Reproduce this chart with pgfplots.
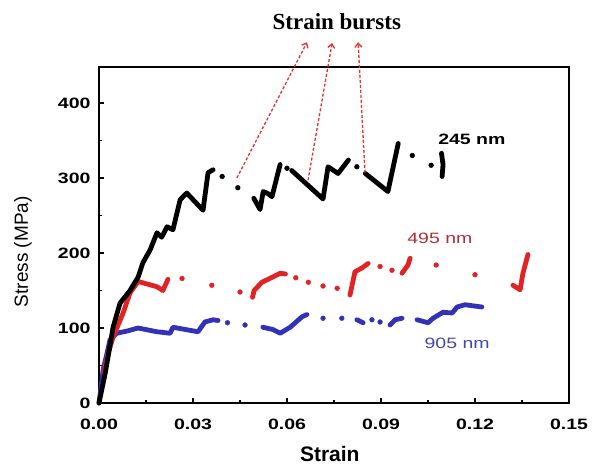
\documentclass[border=0pt]{standalone}
\usepackage{fontspec}
\setmainfont{Liberation Sans}
\newfontfamily\tickfont{Liberation Sans}[FakeStretch=1.3]
\newfontfamily\titlefont{Liberation Serif}
\usepackage{pgfplots}
\pgfplotsset{compat=1.18}
\usetikzlibrary{arrows.meta}

\definecolor{dred}{RGB}{225,35,35}
\definecolor{lred}{RGB}{175,45,55}
\definecolor{dblue}{RGB}{50,50,185}
\definecolor{lblue}{RGB}{70,70,165}
\definecolor{arr}{RGB}{235,45,45}

\begin{document}
\begin{tikzpicture}
\path[use as bounding box] (-99pt,-63pt) rectangle (494pt,403pt);
\begin{axis}[
    at={(0pt,0pt)}, anchor=south west,
    scale only axis, width=470pt, height=336pt,
    xmin=0, xmax=0.15, ymin=0, ymax=448,
    xtick={0,0.03,0.06,0.09,0.12,0.15},
    ytick={0,100,200,300,400},
    minor x tick num=1, minor y tick num=1,
    tick align=inside, tick pos=left,
    major tick length=5pt, minor tick length=3.5pt,
    axis line style={line width=1.5pt},
    every tick/.style={line width=1.2pt, black},
    x tick label style={/pgf/number format/fixed, /pgf/number format/fixed zerofill,
        /pgf/number format/precision=2, yshift=-12pt},
    y tick label style={xshift=-5pt},
    /pgf/number format/assume math mode=true,
    tick label style={font={\fontsize{15}{18}\tickfont\bfseries}},
    scaled x ticks=false,
    clip=false,
    blk/.style={black, line width=4.8pt, line join=round, line cap=round},
    red/.style={dred, line width=4.8pt, line join=round, line cap=round},
    blu/.style={dblue, line width=4.8pt, line join=round, line cap=round},
    dots/.style={only marks, mark=*, mark size=2.4pt},
]
% 905 nm
\addplot[blu] coordinates {(0,0) (0.0008,25) (0.0013,44) (0.0026,67) (0.0035,84) (0.0057,93) (0.009,96) (0.0125,100) (0.0185,95) (0.0227,93) (0.0236,101) (0.0316,95) (0.0338,108) (0.0364,111) (0.038,110)};
\addplot[dots, dblue] coordinates {(0.041,107) (0.0466,104) (0.0715,113) (0.0775,113) (0.0871,111) (0.0897,108)};
\addplot[blu] coordinates {(0.0523,101) (0.0555,98) (0.0578,93) (0.061,101) (0.0648,115) (0.0664,118)};
\addplot[blu] coordinates {(0.0823,111) (0.0843,107)};
\addplot[blu] coordinates {(0.0929,104) (0.0945,111) (0.0967,113)};
\addplot[blu] coordinates {(0.1015,111) (0.105,107) (0.1066,113) (0.1098,121) (0.1127,120) (0.1143,128) (0.1168,131) (0.1222,128)};
% 495 nm
\addplot[red] coordinates {(0.0015,40) (0.003,67) (0.0045,88) (0.0077,120) (0.0099,147) (0.0125,162) (0.0185,155) (0.0204,150) (0.022,165)};
\addplot[dots, dred] coordinates {(0.0265,166) (0.036,157) (0.045,148) (0.0628,167) (0.0668,161) (0.0715,156) (0.076,153) (0.0897,182) (0.0935,177) (0.1076,184) (0.120,171)};
\addplot[red] coordinates {(0.049,141) (0.0495,150) (0.052,161) (0.0555,168) (0.0578,173) (0.0595,172)};
\addplot[red] coordinates {(0.0801,144) (0.0817,175) (0.0839,180) (0.0859,186)};
\addplot[red] coordinates {(0.0967,173) (0.0986,184) (0.0993,193)};
\addplot[red] coordinates {(0.1321,157) (0.1344,151) (0.1353,173) (0.1369,198)};
% 245 nm
\addplot[blk] coordinates {(0,0) (0.002,40) (0.0045,101) (0.0067,133) (0.0099,150) (0.0125,168) (0.014,187) (0.0163,204) (0.0185,227) (0.020,221) (0.0217,235) (0.0236,231) (0.0259,271) (0.028,280) (0.0332,257) (0.0348,307) (0.0364,311)};
\addplot[dots, black] coordinates {(0.0393,302) (0.0443,287) (0.060,313) (0.0823,315) (0.100,330) (0.106,317)};
\addplot[blk] coordinates {(0.0494,273) (0.0514,258) (0.0524,282) (0.054,279) (0.0552,275) (0.0578,318)};
\addplot[blk] coordinates {(0.0615,310) (0.0715,272) (0.0731,315) (0.0763,306) (0.0796,324)};
\addplot[blk] coordinates {(0.085,306) (0.0922,282) (0.0955,346)};
\addplot[blk] coordinates {(0.1095,302) (0.1098,318) (0.1093,333)};
% annotations
\draw[arr, line width=1.3pt, dash pattern=on 3pt off 2pt, -{Straight Barb[length=4pt,width=7pt]}] (axis cs:0.0440,300) -- (axis cs:0.0664,481);
\draw[arr, line width=1.3pt, dash pattern=on 3pt off 2pt, -{Straight Barb[length=4pt,width=7pt]}] (axis cs:0.0667,297) -- (axis cs:0.0744,480);
\draw[arr, line width=1.3pt, dash pattern=on 3pt off 2pt, -{Straight Barb[length=4pt,width=7pt]}] (axis cs:0.0849,307) -- (axis cs:0.0827,481);
\node[font={\fontsize{23}{26}\titlefont\bfseries}] at (axis description cs:0.506,1.136) {Strain bursts};
\node[font={\fontsize{15}{18}\tickfont\bfseries}] at (axis cs:0.119,352) {245 nm};
\node[font={\fontsize{15}{18}\tickfont}, text=lred] at (axis cs:0.1088,219) {495 nm};
\node[font={\fontsize{15}{18}\tickfont}, text=lblue] at (axis cs:0.1143,80) {905 nm};
\node[font={\fontsize{21}{24}\selectfont\bfseries}, inner sep=0pt] at (axis description cs:0.491,-0.152) {Strain};
\node[font={\fontsize{19}{22}\selectfont}, rotate=90] at (axis description cs:-0.162,0.450) {Stress (MPa)};
\end{axis}
\end{tikzpicture}
\end{document}
